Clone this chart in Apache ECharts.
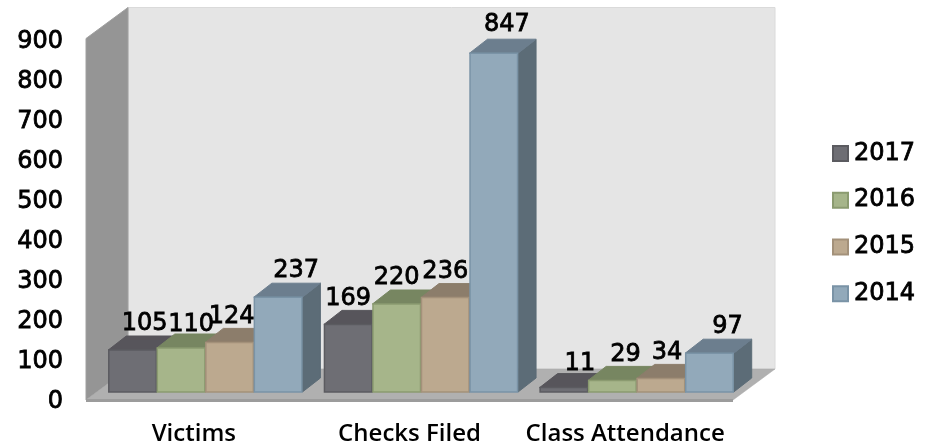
<!DOCTYPE html>
<html><head><meta charset="utf-8">
<style>html,body{margin:0;padding:0;background:#fff}#c{width:932px;height:442px}</style>
<script src="https://cdn.jsdelivr.net/npm/echarts@6/dist/echarts.min.js"></script>
</head><body><div id="c"></div>
<script>
var categories = ['Victims', 'Checks Filed', 'Class Attendance'];
var yearNames = ['2017', '2016', '2015', '2014'];
var values2017 = [105, 169, 11];
var values2016 = [110, 220, 29];
var values2015 = [124, 236, 34];
var values2014 = [237, 847, 97];
var yTicks = [0, 900, 100];

// styling only
var tones = [
  {front:'#6e6e74', top:'#57555b', side:'#48474c', line:'#5b5b60'},
  {front:'#a6b58a', top:'#778661', side:'#667353', line:'#8b9b70'},
  {front:'#bca98f', top:'#8c7d6b', side:'#75695a', line:'#a3917a'},
  {front:'#92a9ba', top:'#6c7e8e', side:'#5c6c77', line:'#7a93a6'}
];
var labelNudges = [
  [[12,0],[0,0],[16,2]],
  [[10,3],[0,0],[13,0]],
  [[2,0],[0,0],[6,0]],
  [[18,0],[13,-2],[18,0]]
];
var seriesValues = [values2017, values2016, values2015, values2014];
var DX = 18, DY = 14, BASE = 8, GROUP_SHIFT = 11.5;
var WX = 42, WY = 31;
var FONT = 'DejaVu Sans';

function poly(pts, fill, stroke, w) {
  return {type:'polygon', shape:{points:pts}, style:{fill:fill, stroke:stroke||null, lineWidth:w||0}};
}
function barRenderer(si) {
  return function (params, api) {
    var cat = api.value(0), val = api.value(1);
    var band = api.size([1, 0])[0];
    var w = band * 0.225;
    var p0 = api.coord([cat, 0]), p1 = api.coord([cat, val]);
    var x0 = p0[0] + GROUP_SHIFT + (si - 2) * w, x1 = x0 + w;
    var yb = p0[1] - BASE, yt = p1[1] - BASE;
    var t = tones[si];
    var nudge = labelNudges[si][params.dataIndex];
    return {type:'group', children:[
      poly([[x1,yb],[x1+DX,yb-DY],[x1+DX,yt-DY],[x1,yt]], t.side, t.side, 1),
      poly([[x0,yt],[x1,yt],[x1+DX,yt-DY],[x0+DX,yt-DY]], t.top, t.top, 1),
      {type:'rect', shape:{x:x0+0.5,y:yt,width:w-1,height:yb-yt}, style:{fill:t.front, stroke:t.line, lineWidth:1.5}},
      {type:'text', z2:100, style:{
        text:String(val), x:(x0+x1)/2+nudge[0], y:yt-DY-12+nudge[1],
        align:'center', verticalAlign:'middle',
        fontFamily:FONT, fontSize:24, fill:'#000', stroke:'#000', lineWidth:0.8}}
    ]};
  };
}
function wallRenderer(params) {
  var c = params.coordSys, l = c.x, r = c.x + c.width, b = c.y + c.height, t = c.y - 1.5;
  return {type:'group', children:[
    {type:'rect', shape:{x:l+WX,y:t-WY,width:r-l,height:b-t}, style:{fill:'#e5e5e5', stroke:'#dadada', lineWidth:1}},
    poly([[l,t],[l+WX,t-WY],[l+WX,b-WY],[l,b]], '#959595', '#a0a0a0', 1),
    poly([[l,b],[r,b],[r+WX,b-WY],[l+WX,b-WY]], '#b0b0b0', '#a8a8a8', 0.5),
    {type:'rect', shape:{x:l,y:b-1,width:r-l,height:3}, style:{fill:'#9c9c9c'}}
  ]};
}
var axisText = {fontFamily:FONT, fontSize:24, color:'#000', textBorderColor:'#000', textBorderWidth:0.8};
var series = [{type:'custom', silent:true, name:'walls', z:1, clip:false,
  renderItem:wallRenderer, data:[[0,0]], encode:{x:0,y:1}}];
yearNames.forEach(function (n, si) {
  series.push({type:'custom', name:n, z:2, clip:false, renderItem:barRenderer(si),
    itemStyle:{color:tones[si].front, borderColor:tones[si].line, borderWidth:1.5},
    encode:{x:0,y:1},
    data:seriesValues[si].map(function (v, i) { return [i, v]; })});
});
var chart = echarts.init(document.getElementById('c'), null, {renderer:'canvas'});
chart.setOption({
  animation:false,
  backgroundColor:'#fff',
  grid:{left:86, width:647, top:40, height:360, containLabel:false, outerBoundsMode:'none'},
  xAxis:{type:'category', data:categories, axisLine:{show:false}, axisTick:{show:false},
    splitLine:{show:false},
    axisLabel:{interval:0, margin:22, fontFamily:'Open Sans', fontWeight:600, fontSize:24, color:'#000'}},
  yAxis:{type:'value', min:yTicks[0], max:yTicks[1], interval:yTicks[2], axisLine:{show:false},
    axisTick:{show:false}, splitLine:{show:false},
    axisLabel:Object.assign({margin:23, align:'right', verticalAlign:'top', lineHeight:4}, axisText)},
  legend:{orient:'vertical', left:827, top:136, itemWidth:15, itemHeight:15, itemGap:22,
    data:yearNames, selectedMode:false, icon:'rect',
    textStyle:Object.assign({padding:[0,0,0,1]}, axisText)},
  series:series
});
</script></body></html>
